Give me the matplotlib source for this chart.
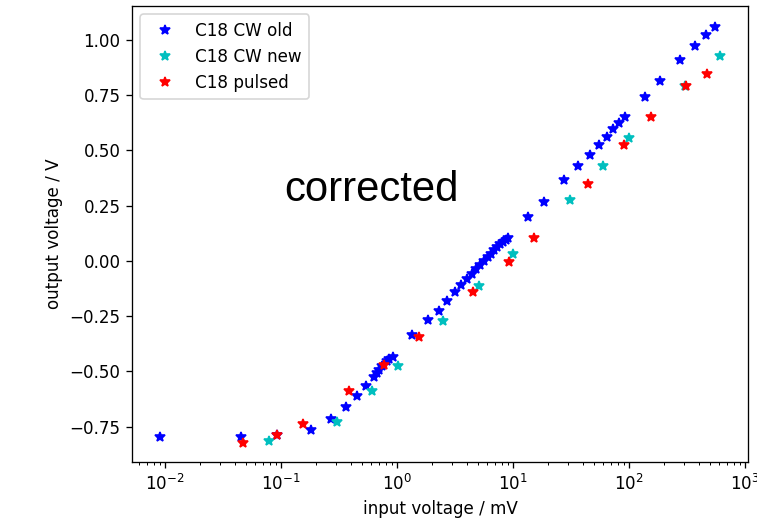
import matplotlib
matplotlib.use("Agg")
import matplotlib.pyplot as plt

# C18 CW old
old_x = [0.00906, 0.0452, 0.0924, 0.1815, 0.270, 0.363, 0.452, 0.541, 0.634, 0.673,
         0.700, 0.743, 0.820, 0.853, 0.924, 1.347, 1.85, 2.30, 2.70, 3.16,
         3.56, 4.01, 4.43, 4.80, 5.20, 5.62, 6.09, 6.46, 6.86, 7.28,
         7.72, 8.20, 8.71, 9.06, 13.5, 18.5, 27.5, 36.3, 46.1, 55.1,
         64.6, 72.8, 82.0, 92.4, 137, 185, 275, 371, 461, 551]
old_y = [-0.796, -0.796, -0.787, -0.765, -0.715, -0.661, -0.611, -0.566, -0.525, -0.507,
         -0.493, -0.475, -0.452, -0.443, -0.434, -0.335, -0.267, -0.226, -0.181, -0.140,
         -0.109, -0.081, -0.059, -0.036, -0.018, 0.000, 0.018, 0.032, 0.050, 0.063,
         0.077, 0.086, 0.095, 0.104, 0.199, 0.267, 0.367, 0.430, 0.480, 0.525,
         0.561, 0.597, 0.624, 0.652, 0.742, 0.814, 0.910, 0.973, 1.023, 1.059]

# C18 CW new
new_x = [0.0788, 0.304, 0.609, 1.02, 2.49, 5.09, 10.0, 31.0, 59.7, 100, 304, 609]
new_y = [-0.814, -0.729, -0.588, -0.475, -0.271, -0.113, 0.032, 0.276, 0.430, 0.557, 0.792, 0.928]

# C18 pulsed
pul_x = [0.047, 0.0924, 0.155, 0.386, 0.773, 1.55, 4.52, 9.24, 15.2, 44.3, 90.5, 155, 310, 470]
pul_y = [-0.824, -0.787, -0.738, -0.588, -0.471, -0.344, -0.140, -0.005, 0.104, 0.348, 0.525, 0.652, 0.792, 0.846]

plt.rcParams['font.size'] = 10.2

W, H = 757, 524
dpi = 118.28
fig = plt.figure(figsize=(W / dpi, H / dpi), dpi=dpi)
ax = fig.add_axes([132 / W, 1 - 462 / H, (748 - 132) / W, (462 - 6) / H])

ax.plot(old_x, old_y, 'b*', markersize=6.3, label='C18 CW old')
ax.plot(new_x, new_y, 'c*', markersize=6.3, label='C18 CW new')
ax.plot(pul_x, pul_y, 'r*', markersize=6.3, label='C18 pulsed')

ax.set_xscale('log')
ax.set_xlim(10 ** -2.284, 10 ** 3.026)
ax.set_ylim(-0.910, 1.154)
ax.set_xlabel('input voltage / mV')
ax.set_ylabel('output voltage / V')
ax.legend(loc='upper left', labelspacing=0.47, borderpad=0.45)

fig.text(371.5 / W, 1 - 201 / H, 'corrected', fontsize=25.5,
         family='Liberation Sans', ha='center', va='baseline')

fig.savefig('out.png', dpi=dpi)
